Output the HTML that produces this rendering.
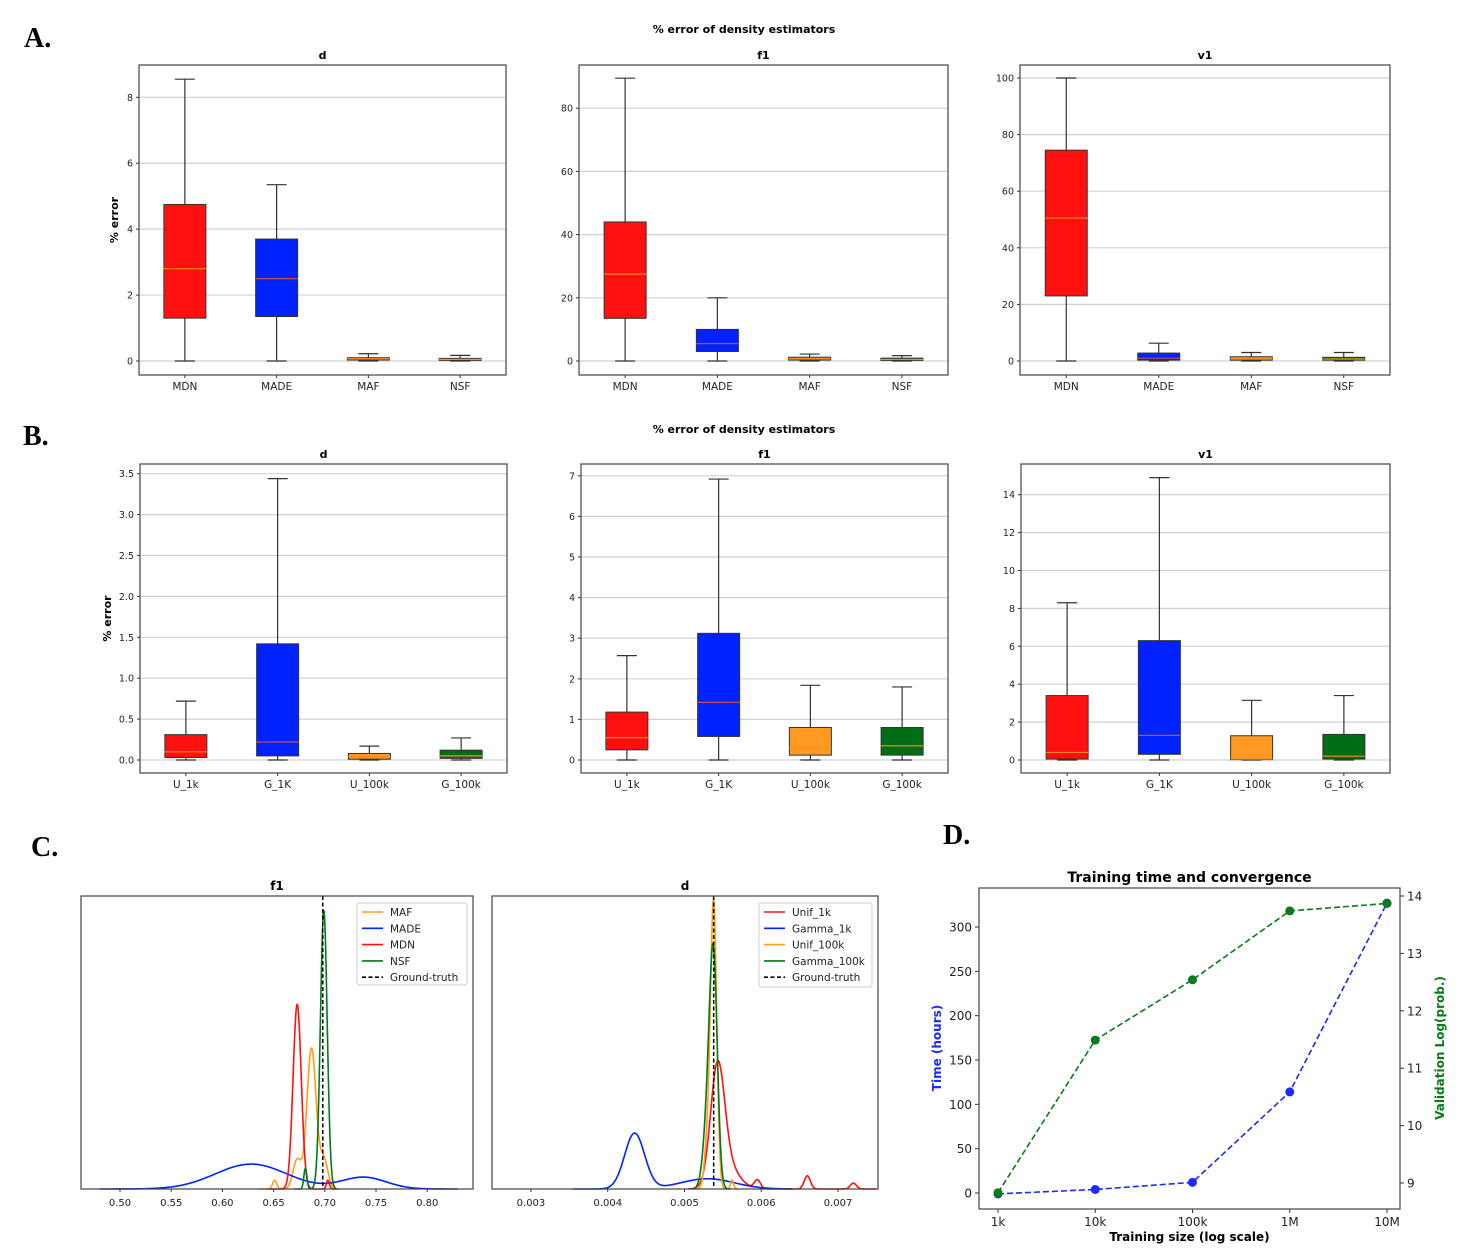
<!DOCTYPE html>
<html><head><meta charset="utf-8">
<style>
html,body{margin:0;padding:0;background:#fff;}
svg{display:block;font-family:"DejaVu Sans","Liberation Sans",sans-serif;}
.pl{font-family:"Liberation Serif",serif;font-weight:bold;font-size:28px;}
</style></head>
<body>
<svg id="fig" width="1466" height="1253" viewBox="0 0 1466 1253" xmlns="http://www.w3.org/2000/svg">
<text class="pl" x="24" y="47">A.</text>
<text class="pl" x="23" y="445">B.</text>
<text class="pl" x="31" y="856">C.</text>
<text class="pl" x="943" y="844">D.</text>
<text x="744" y="33" font-size="11" font-weight="bold" text-anchor="middle">% error of density estimators</text>
<text x="744" y="433" font-size="11" font-weight="bold" text-anchor="middle">% error of density estimators</text>
</svg>
<script>
// ---------- Panel A data ----------
const catsA = ["MDN","MADE","MAF","NSF"];
const aD_min=[0,0,0,0], aD_q1=[1.3,1.35,0.03,0.02], aD_med=[2.8,2.5,0.07,0.05], aD_q3=[4.75,3.7,0.1,0.08], aD_max=[8.55,5.35,0.22,0.17];
const aF_min=[0,0,0,0], aF_q1=[13.5,3,0.3,0.2], aF_med=[27.5,5.5,0.7,0.5], aF_q3=[44,10,1.2,0.9], aF_max=[89.5,20,2.2,1.7];
const aV_min=[0,0,0,0], aV_q1=[23,0.3,0.3,0.3], aV_med=[50.5,1,0.8,0.7], aV_q3=[74.5,2.8,1.5,1.3], aV_max=[100,6.3,3,3];
const ticksAD=[0,2,4,6,8], ticksAF=[0,20,40,60,80], ticksAV=[0,20,40,60,80,100];
// ---------- Panel B data ----------
const catsB = ["U_1k","G_1K","U_100k","G_100k"];
const bD_min=[0,0,0,0], bD_q1=[0.03,0.05,0.01,0.02], bD_med=[0.1,0.22,0.04,0.05], bD_q3=[0.31,1.42,0.08,0.12], bD_max=[0.72,3.44,0.17,0.27];
const bF_min=[0,0,0,0], bF_q1=[0.25,0.58,0.12,0.12], bF_med=[0.55,1.42,0.3,0.35], bF_q3=[1.18,3.12,0.8,0.8], bF_max=[2.57,6.92,1.84,1.8];
const bV_min=[0,0,0,0], bV_q1=[0.05,0.3,0.02,0.05], bV_med=[0.4,1.3,0.05,0.2], bV_q3=[3.4,6.3,1.28,1.35], bV_max=[8.3,14.9,3.15,3.4];
const ticksBD=[0,0.5,1,1.5,2,2.5,3,3.5], ticksBF=[0,1,2,3,4,5,6,7], ticksBV=[0,2,4,6,8,10,12,14];
// ---------- Panel C data (KDE components: mean, sd, relative height) ----------
const f1Means={MAF:[0.687,0.673,0.651,0.699],MADE:[0.628,0.738],MDN:[0.673,0.703],NSF:[0.699,0.681]};
const f1Sds  ={MAF:[0.0045,0.004,0.002,0.004],MADE:[0.035,0.022],MDN:[0.004,0.0015],NSF:[0.0033,0.0015]};
const f1Hts  ={MAF:[0.48,0.1,0.03,0.1],MADE:[0.085,0.04],MDN:[0.63,0.03],NSF:[0.95,0.07]};
const f1Range={MAF:[0.635,0.715],MADE:[0.48,0.83],MDN:[0.645,0.712],NSF:[0.67,0.712]};
const f1Truth=0.698;
const dMeans={Unif_1k:[0.00543,0.00595,0.0066,0.0072,0.00555],Gamma_1k:[0.00435,0.0053],Unif_100k:[0.00538,0.0053,0.00562],Gamma_100k:[0.00538,0.00531]};
const dSds  ={Unif_1k:[0.00009,0.00004,0.00004,0.00004,0.00015],Gamma_1k:[0.00013,0.00035],Unif_100k:[0.00004,0.00004,0.00002],Gamma_100k:[0.00005,0.00006]};
const dHts  ={Unif_1k:[0.38,0.03,0.045,0.02,0.08],Gamma_1k:[0.19,0.035],Unif_100k:[0.97,0.15,0.03],Gamma_100k:[0.7,0.25]};
const dRange={Unif_1k:[0.00505,0.0075],Gamma_1k:[0.00355,0.0064],Unif_100k:[0.0051,0.0057],Gamma_100k:[0.0051,0.0056]};
const dTruth=0.00538;
// ---------- Panel D data ----------
const sizes=[1e3,1e4,1e5,1e6,1e7], sizeLabels=["1k","10k","100k","1M","10M"];
const timeHours=[-1,4,12,114,327];
const valLogProb=[8.83,11.49,12.54,13.74,13.87];
const ticksTime=[0,50,100,150,200,250,300], ticksLP=[9,10,11,12,13,14];

const svg=document.getElementById('fig');
const NS='http://www.w3.org/2000/svg';
function mk(tag,attrs,parent){const e=document.createElementNS(NS,tag);for(const k in attrs)e.setAttribute(k,attrs[k]);(parent||svg).appendChild(e);return e;}
function txt(s,attrs,parent){const e=mk('text',attrs,parent);e.textContent=s;return e;}
const boxColors=["#ff1010","#0022ff","#ff9922","#006e17"];

function boxChart(name,x0,x1,y0,y1,dom,ticks,cats,mins,q1,med,q3,maxs,title,ylab,ylOff){
  const g=mk('g',{});
  
  
  const ys=v=>y1-(v-dom[0])/(dom[1]-dom[0])*(y1-y0);
  const xs=i=>x0+(i+0.5)*(x1-x0)/cats.length;
  const dec=ticks.some(v=>v%1);
  ticks.forEach(t=>{
    const y=ys(t);
    const gl=mk('line',{x1:x0,x2:x1,y1:y,y2:y,stroke:'#d0d0d0','stroke-width':1.2},g);
    
    
    mk('line',{x1:x0-3,x2:x0,y1:y,y2:y,stroke:'#333'},g);
    const tl=txt(dec?t.toFixed(1):String(t),{x:x0-6,y:y+3.5,'font-size':9.5,'text-anchor':'end',fill:'#222'},g);
    
    
  });
  cats.forEach((c,i)=>{
    const cx=xs(i),bw=42,cw=20;
    const bg=mk('g',{},g);
    
    
    mk('line',{x1:cx,x2:cx,y1:ys(q3[i]),y2:ys(maxs[i]),stroke:'#333','stroke-width':1.2},bg);
    mk('line',{x1:cx,x2:cx,y1:ys(q1[i]),y2:ys(mins[i]),stroke:'#333','stroke-width':1.2},bg);
    mk('line',{x1:cx-cw/2,x2:cx+cw/2,y1:ys(maxs[i]),y2:ys(maxs[i]),stroke:'#333','stroke-width':1.2},bg);
    mk('line',{x1:cx-cw/2,x2:cx+cw/2,y1:ys(mins[i]),y2:ys(mins[i]),stroke:'#333','stroke-width':1.2},bg);
    const top=ys(q3[i]),bot=ys(q1[i]);
    mk('rect',{x:cx-bw/2,y:top,width:bw,height:Math.max(bot-top,1.5),fill:boxColors[i],stroke:'#333','stroke-width':1},bg);
    mk('line',{x1:cx-bw/2,x2:cx+bw/2,y1:ys(med[i]),y2:ys(med[i]),stroke:i==1?'#c05050':'#ff8c1a','stroke-width':1.2},bg);
    mk('line',{x1:cx,x2:cx,y1:y1,y2:y1+3,stroke:'#333'},g);
    const cl=txt(c,{x:cx,y:y1+15,'font-size':10.5,'text-anchor':'middle',fill:'#222'},g);
    
    
  });
  mk('rect',{x:x0,y:y0,width:x1-x0,height:y1-y0,fill:'none',stroke:'#444','stroke-width':1.2},g);
  const tt=txt(title,{x:(x0+x1)/2,y:y0-6,'font-size':11,'font-weight':'bold','text-anchor':'middle'},g);
  
  
  if(ylab){
    const yl=txt(ylab,{x:0,y:0,'font-size':11,'font-weight':'bold','text-anchor':'middle',transform:`translate(${x0-ylOff},${(y0+y1)/2}) rotate(-90)`},g);
    
    
  }
}
function domFrom(zeroY,pxPerUnit,y0,y1){return [-(y1-zeroY)/pxPerUnit,(zeroY-y0)/pxPerUnit];}
boxChart('chart-a-d',139,506,65,375,domFrom(361,32.96,65,375),ticksAD,catsA,aD_min,aD_q1,aD_med,aD_q3,aD_max,'d','% error',21);
boxChart('chart-a-f1',579,948,65,375,domFrom(361,3.16,65,375),ticksAF,catsA,aF_min,aF_q1,aF_med,aF_q3,aF_max,'f1');
boxChart('chart-a-v1',1020,1390,65,375,domFrom(361,2.83,65,375),ticksAV,catsA,aV_min,aV_q1,aV_med,aV_q3,aV_max,'v1');
boxChart('chart-b-d',140,507,464,773,domFrom(760,81.8,464,773),ticksBD,catsB,bD_min,bD_q1,bD_med,bD_q3,bD_max,'d','% error',29);
boxChart('chart-b-f1',581,948,464,773,domFrom(760,40.6,464,773),ticksBF,catsB,bF_min,bF_q1,bF_med,bF_q3,bF_max,'f1');
boxChart('chart-b-v1',1021,1390,464,773,domFrom(760,18.95,464,773),ticksBV,catsB,bV_min,bV_q1,bV_med,bV_q3,bV_max,'v1');

// ---------- Panel C ----------
function kdeChart(name,x0,x1,y0,y1,xdom,xticks,fmt,series,colors,means,sds,hts,ranges,truth,title,lg){
  const g=mk('g',{});
  
  
  const xs=v=>x0+(v-xdom[0])/(xdom[1]-xdom[0])*(x1-x0);
  const ys=v=>y1-v*(y1-y0);
  xticks.forEach(t=>{
    mk('line',{x1:xs(t),x2:xs(t),y1:y1,y2:y1+3,stroke:'#333'},g);
    const tl=txt(t.toFixed(fmt),{x:xs(t),y:y1+17,'font-size':10,'text-anchor':'middle',fill:'#222'},g);
    
    
  });
  series.forEach((s,si)=>{
    const r=ranges[s];let pts=[];
    for(let k=0;k<=600;k++){const x=r[0]+(r[1]-r[0])*k/600;let d=0;
      means[s].forEach((m,j)=>{d+=hts[s][j]*Math.exp(-0.5*Math.pow((x-m)/sds[s][j],2));});
      pts.push(xs(x).toFixed(2)+','+ys(d).toFixed(2));}
    const p=mk('polyline',{points:pts.join(' '),fill:'none',stroke:colors[si],'stroke-width':1.6},g);
    
    
  });
  const gt=mk('line',{x1:xs(truth),x2:xs(truth),y1:y0,y2:y1,stroke:'#000','stroke-width':1.5,'stroke-dasharray':'4,2.5'},g);
  
  
  mk('rect',{x:x0,y:y0,width:x1-x0,height:y1-y0,fill:'none',stroke:'#444','stroke-width':1.2},g);
  const tt=txt(title,{x:(x0+x1)/2,y:y0-6,'font-size':12,'font-weight':'bold','text-anchor':'middle'},g);
  
  
  const lgG=mk('g',{},g);
  
  
  mk('rect',{x:lg[0],y:lg[1],width:lg[2],height:lg[3],fill:'#fff',stroke:'#ccc',rx:2},lgG);
  const labs=series.concat(['Ground-truth']),cols=colors.concat(['#000']);
  labs.forEach((l,i)=>{
    const yy=lg[1]+9+i*16.3;
    const li=mk('line',{x1:lg[0]+5,x2:lg[0]+26,y1:yy,y2:yy,stroke:cols[i],'stroke-width':1.6},lgG);
    if(i==labs.length-1)li.setAttribute('stroke-dasharray','4,2.5');
    const lt=txt(l,{x:lg[0]+33,y:yy+4,'font-size':10.5,fill:'#222'},lgG);
    
    
  });
}
kdeChart('chart-c-f1',81,473,896,1189,[0.4619,0.8447],[0.5,0.55,0.6,0.65,0.7,0.75,0.8],2,
  ['MAF','MADE','MDN','NSF'],['#ff9e1a','#0022ff','#ff1010','#007a1a'],f1Means,f1Sds,f1Hts,f1Range,f1Truth,'f1',[357,903,110,82]);
kdeChart('chart-c-d',492,878,896,1189,[0.002492,0.007521],[0.003,0.004,0.005,0.006,0.007],3,
  ['Unif_1k','Gamma_1k','Unif_100k','Gamma_100k'],['#ff1010','#0022ff','#ff9e1a','#007a1a'],dMeans,dSds,dHts,dRange,dTruth,'d',[759,903,113,84]);

// ---------- Panel D ----------
(function(){
  const x0=979,x1=1400,y0=888,y1=1209;
  const g=mk('g',{});
  
  
  const xs=v=>998+(Math.log10(v)-3)*97.25;
  const yL=v=>1193-v*44.33/50;
  const yR=v=>1183-(v-9)*57.4;
  ticksTime.forEach(t=>{mk('line',{x1:x0-4,x2:x0,y1:yL(t),y2:yL(t),stroke:'#333'},g);
    const l=txt(String(t),{x:x0-7,y:yL(t)+4.5,'font-size':12,'text-anchor':'end',fill:'#222'},g);
    
    });
  ticksLP.forEach(t=>{mk('line',{x1:x1,x2:x1+4,y1:yR(t),y2:yR(t),stroke:'#333'},g);
    const l=txt(String(t),{x:x1+7,y:yR(t)+4.5,'font-size':12,fill:'#222'},g);
    
    });
  sizes.forEach((s,i)=>{mk('line',{x1:xs(s),x2:xs(s),y1:y1,y2:y1+4,stroke:'#333'},g);
    const l=txt(sizeLabels[i],{x:xs(s),y:y1+17,'font-size':12,'text-anchor':'middle',fill:'#222'},g);
    
    });
  const tp=mk('polyline',{points:sizes.map((s,i)=>xs(s)+','+yL(timeHours[i])).join(' '),fill:'none',stroke:'#1a2bff','stroke-width':1.6,'stroke-dasharray':'6,3'},g);
  
  
  const vp=mk('polyline',{points:sizes.map((s,i)=>xs(s)+','+yR(valLogProb[i])).join(' '),fill:'none',stroke:'#0a7a1a','stroke-width':1.6,'stroke-dasharray':'6,3'},g);
  
  
  sizes.forEach((s,i)=>{const c=mk('circle',{cx:xs(s),cy:yL(timeHours[i]),r:4.5,fill:'#1a2bff'},g);
    
    });
  sizes.forEach((s,i)=>{const c=mk('circle',{cx:xs(s),cy:yR(valLogProb[i]),r:4.5,fill:'#0a7a1a'},g);
    
    });
  mk('rect',{x:x0,y:y0,width:x1-x0,height:y1-y0,fill:'none',stroke:'#444','stroke-width':1.2},g);
  const t=txt('Training time and convergence',{x:(x0+x1)/2,y:y0-6,'font-size':14,'font-weight':'bold','text-anchor':'middle'},g);
  
  
  const xl=txt('Training size (log scale)',{x:(x0+x1)/2,y:1241,'font-size':12,'font-weight':'bold','text-anchor':'middle'},g);
  
  
  const yl=txt('Time (hours)',{x:0,y:0,'font-size':12,'font-weight':'bold','text-anchor':'middle',fill:'#1a2bff',transform:`translate(941,1048) rotate(-90)`},g);
  
  
  const yr=txt('Validation Log(prob.)',{x:0,y:0,'font-size':12,'font-weight':'bold','text-anchor':'middle',fill:'#0a7a1a',transform:`translate(1444,1048) rotate(-90)`},g);
  
  
})();
</script>
</body></html>
